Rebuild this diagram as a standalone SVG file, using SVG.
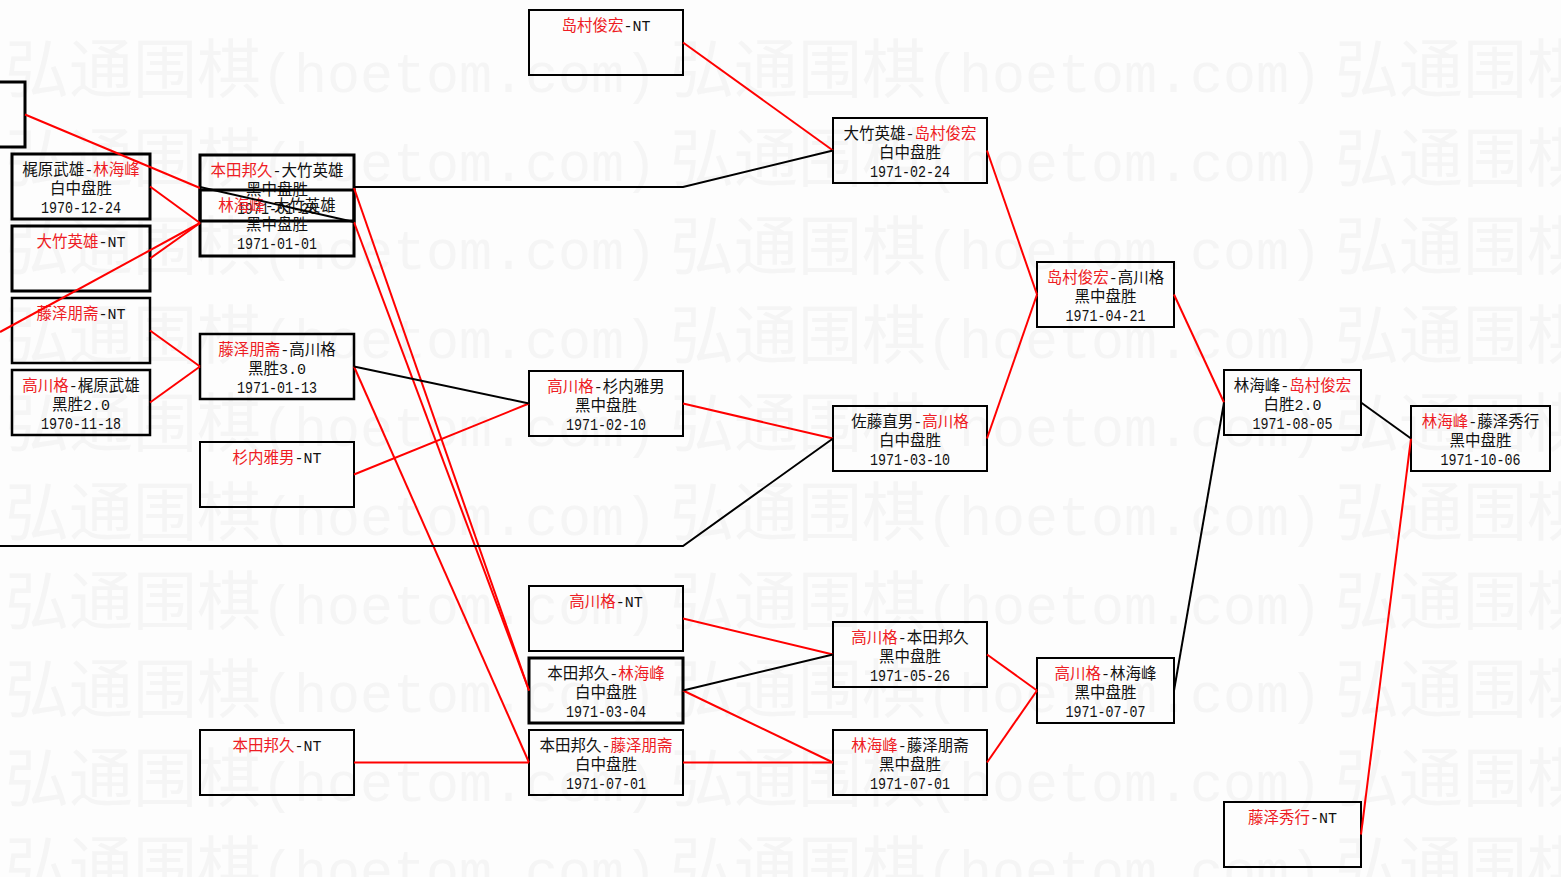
<svg xmlns="http://www.w3.org/2000/svg" width="1561" height="877" viewBox="0 0 1561 877">
<style>
.wm{font-family:"Liberation Mono",monospace;font-size:55px;fill:#f5f5f5}
.wc{font-family:"Noto Sans CJK SC",sans-serif;font-size:64px}
.b{fill:none;stroke:#000;stroke-width:2}
.bt{stroke-width:3}
.bm{stroke-width:2.5}
.t{font-family:"Noto Sans CJK SC","Liberation Sans",sans-serif;font-size:15.5px;fill:#111;text-anchor:middle}
.m{font-family:"Liberation Mono",monospace;font-size:15px}
.d{font-family:"Liberation Mono",monospace;font-size:16px}
.r{fill:#ee1c24}
.lr{stroke:#f00;stroke-width:2;fill:none}
.lk{stroke:#000;stroke-width:2;fill:none}
</style>
<rect width="1561" height="877" fill="#fdfdfd"/>
<g id="watermark">
<text class="wm" y="92"><tspan x="5" class="wc">弘通围棋</tspan><tspan>(hoetom.com)</tspan><tspan x="670" class="wc">弘通围棋</tspan><tspan>(hoetom.com)</tspan><tspan x="1335" class="wc">弘通围棋</tspan></text>
<text class="wm" y="181"><tspan x="5" class="wc">弘通围棋</tspan><tspan>(hoetom.com)</tspan><tspan x="670" class="wc">弘通围棋</tspan><tspan>(hoetom.com)</tspan><tspan x="1335" class="wc">弘通围棋</tspan></text>
<text class="wm" y="269"><tspan x="5" class="wc">弘通围棋</tspan><tspan>(hoetom.com)</tspan><tspan x="670" class="wc">弘通围棋</tspan><tspan>(hoetom.com)</tspan><tspan x="1335" class="wc">弘通围棋</tspan></text>
<text class="wm" y="358"><tspan x="5" class="wc">弘通围棋</tspan><tspan>(hoetom.com)</tspan><tspan x="670" class="wc">弘通围棋</tspan><tspan>(hoetom.com)</tspan><tspan x="1335" class="wc">弘通围棋</tspan></text>
<text class="wm" y="446"><tspan x="5" class="wc">弘通围棋</tspan><tspan>(hoetom.com)</tspan><tspan x="670" class="wc">弘通围棋</tspan><tspan>(hoetom.com)</tspan><tspan x="1335" class="wc">弘通围棋</tspan></text>
<text class="wm" y="535"><tspan x="5" class="wc">弘通围棋</tspan><tspan>(hoetom.com)</tspan><tspan x="670" class="wc">弘通围棋</tspan><tspan>(hoetom.com)</tspan><tspan x="1335" class="wc">弘通围棋</tspan></text>
<text class="wm" y="624"><tspan x="5" class="wc">弘通围棋</tspan><tspan>(hoetom.com)</tspan><tspan x="670" class="wc">弘通围棋</tspan><tspan>(hoetom.com)</tspan><tspan x="1335" class="wc">弘通围棋</tspan></text>
<text class="wm" y="712"><tspan x="5" class="wc">弘通围棋</tspan><tspan>(hoetom.com)</tspan><tspan x="670" class="wc">弘通围棋</tspan><tspan>(hoetom.com)</tspan><tspan x="1335" class="wc">弘通围棋</tspan></text>
<text class="wm" y="801"><tspan x="5" class="wc">弘通围棋</tspan><tspan>(hoetom.com)</tspan><tspan x="670" class="wc">弘通围棋</tspan><tspan>(hoetom.com)</tspan><tspan x="1335" class="wc">弘通围棋</tspan></text>
<text class="wm" y="889"><tspan x="5" class="wc">弘通围棋</tspan><tspan>(hoetom.com)</tspan><tspan x="670" class="wc">弘通围棋</tspan><tspan>(hoetom.com)</tspan><tspan x="1335" class="wc">弘通围棋</tspan></text>
</g>
<g id="n-partial"><rect class="b bt" x="-3" y="82" width="28" height="65"/></g>
<g id="n-kajiwara-rin"><rect class="b bt" x="12" y="154" width="138" height="65"/>
<text class="t" x="81" y="174.5">梶原武雄<tspan class="m">-</tspan><tspan class="r">林海峰</tspan></text>
<text class="t" x="81" y="193.5">白中盘胜</text>
<text class="t d" x="81" y="212.5" textLength="80" lengthAdjust="spacingAndGlyphs">1970-12-24</text></g>
<g id="n-otake-nt"><rect class="b bt" x="12" y="226" width="138" height="65"/>
<text class="t" x="81" y="246.5"><tspan class="r">大竹英雄</tspan><tspan class="m">-NT</tspan></text></g>
<g id="n-fujisawa-nt"><rect class="b bm" x="12" y="298" width="138" height="65"/>
<text class="t" x="81" y="318.5"><tspan class="r">藤泽朋斋</tspan><tspan class="m">-NT</tspan></text></g>
<g id="n-takagawa-kajiwara"><rect class="b bm" x="12" y="370" width="138" height="65"/>
<text class="t" x="81" y="390.5"><tspan class="r">高川格</tspan><tspan class="m">-</tspan>梶原武雄</text>
<text class="t" x="81" y="409.5">黑胜<tspan class="m">2.0</tspan></text>
<text class="t d" x="81" y="428.5" textLength="80" lengthAdjust="spacingAndGlyphs">1970-11-18</text></g>
<g id="n-honda-otake"><rect class="b bt" x="200" y="155" width="154" height="66"/>
<text class="t" x="277" y="175.5"><tspan class="r">本田邦久</tspan><tspan class="m">-</tspan>大竹英雄</text>
<text class="t" x="277" y="194.5">黑中盘胜</text>
<text class="t d" x="277" y="213.5" textLength="80" lengthAdjust="spacingAndGlyphs">1971-01-20</text></g>
<g id="n-rin-otake"><rect class="b bt" x="200" y="190" width="154" height="66"/>
<text class="t" x="277" y="210.5"><tspan class="r">林海峰</tspan><tspan class="m">-</tspan>大竹英雄</text>
<text class="t" x="277" y="229.5">黑中盘胜</text>
<text class="t d" x="277" y="248.5" textLength="80" lengthAdjust="spacingAndGlyphs">1971-01-01</text></g>
<g id="n-fujisawa-takagawa"><rect class="b bm" x="200" y="334" width="154" height="65"/>
<text class="t" x="277" y="354.5"><tspan class="r">藤泽朋斋</tspan><tspan class="m">-</tspan>高川格</text>
<text class="t" x="277" y="373.5">黑胜<tspan class="m">3.0</tspan></text>
<text class="t d" x="277" y="392.5" textLength="80" lengthAdjust="spacingAndGlyphs">1971-01-13</text></g>
<g id="n-sugiuchi-nt"><rect class="b" x="200" y="442" width="154" height="65"/>
<text class="t" x="277" y="462.5"><tspan class="r">杉内雅男</tspan><tspan class="m">-NT</tspan></text></g>
<g id="n-honda-nt"><rect class="b" x="200" y="730" width="154" height="65"/>
<text class="t" x="277" y="750.5"><tspan class="r">本田邦久</tspan><tspan class="m">-NT</tspan></text></g>
<g id="n-shimamura-nt"><rect class="b" x="529" y="10" width="154" height="65"/>
<text class="t" x="606" y="30.5"><tspan class="r">岛村俊宏</tspan><tspan class="m">-NT</tspan></text></g>
<g id="n-takagawa-sugiuchi"><rect class="b" x="529" y="371" width="154" height="65"/>
<text class="t" x="606" y="391.5"><tspan class="r">高川格</tspan><tspan class="m">-</tspan>杉内雅男</text>
<text class="t" x="606" y="410.5">黑中盘胜</text>
<text class="t d" x="606" y="429.5" textLength="80" lengthAdjust="spacingAndGlyphs">1971-02-10</text></g>
<g id="n-takagawa-nt"><rect class="b" x="529" y="586" width="154" height="65"/>
<text class="t" x="606" y="606.5"><tspan class="r">高川格</tspan><tspan class="m">-NT</tspan></text></g>
<g id="n-honda-rin"><rect class="b bt" x="529" y="658" width="154" height="65"/>
<text class="t" x="606" y="678.5">本田邦久<tspan class="m">-</tspan><tspan class="r">林海峰</tspan></text>
<text class="t" x="606" y="697.5">白中盘胜</text>
<text class="t d" x="606" y="716.5" textLength="80" lengthAdjust="spacingAndGlyphs">1971-03-04</text></g>
<g id="n-honda-fujisawa"><rect class="b" x="529" y="730" width="154" height="65"/>
<text class="t" x="606" y="750.5">本田邦久<tspan class="m">-</tspan><tspan class="r">藤泽朋斋</tspan></text>
<text class="t" x="606" y="769.5">白中盘胜</text>
<text class="t d" x="606" y="788.5" textLength="80" lengthAdjust="spacingAndGlyphs">1971-07-01</text></g>
<g id="n-otake-shimamura"><rect class="b" x="833" y="118" width="154" height="65"/>
<text class="t" x="910" y="138.5">大竹英雄<tspan class="m">-</tspan><tspan class="r">岛村俊宏</tspan></text>
<text class="t" x="910" y="157.5">白中盘胜</text>
<text class="t d" x="910" y="176.5" textLength="80" lengthAdjust="spacingAndGlyphs">1971-02-24</text></g>
<g id="n-sato-takagawa"><rect class="b" x="833" y="406" width="154" height="65"/>
<text class="t" x="910" y="426.5">佐藤直男<tspan class="m">-</tspan><tspan class="r">高川格</tspan></text>
<text class="t" x="910" y="445.5">白中盘胜</text>
<text class="t d" x="910" y="464.5" textLength="80" lengthAdjust="spacingAndGlyphs">1971-03-10</text></g>
<g id="n-takagawa-honda"><rect class="b" x="833" y="622" width="154" height="65"/>
<text class="t" x="910" y="642.5"><tspan class="r">高川格</tspan><tspan class="m">-</tspan>本田邦久</text>
<text class="t" x="910" y="661.5">黑中盘胜</text>
<text class="t d" x="910" y="680.5" textLength="80" lengthAdjust="spacingAndGlyphs">1971-05-26</text></g>
<g id="n-rin-fujisawa"><rect class="b" x="833" y="730" width="154" height="65"/>
<text class="t" x="910" y="750.5"><tspan class="r">林海峰</tspan><tspan class="m">-</tspan>藤泽朋斋</text>
<text class="t" x="910" y="769.5">黑中盘胜</text>
<text class="t d" x="910" y="788.5" textLength="80" lengthAdjust="spacingAndGlyphs">1971-07-01</text></g>
<g id="n-shimamura-takagawa"><rect class="b" x="1037" y="262" width="137" height="65"/>
<text class="t" x="1105.5" y="282.5"><tspan class="r">岛村俊宏</tspan><tspan class="m">-</tspan>高川格</text>
<text class="t" x="1105.5" y="301.5">黑中盘胜</text>
<text class="t d" x="1105.5" y="320.5" textLength="80" lengthAdjust="spacingAndGlyphs">1971-04-21</text></g>
<g id="n-takagawa-rin"><rect class="b" x="1037" y="658" width="137" height="65"/>
<text class="t" x="1105.5" y="678.5"><tspan class="r">高川格</tspan><tspan class="m">-</tspan>林海峰</text>
<text class="t" x="1105.5" y="697.5">黑中盘胜</text>
<text class="t d" x="1105.5" y="716.5" textLength="80" lengthAdjust="spacingAndGlyphs">1971-07-07</text></g>
<g id="n-rin-shimamura"><rect class="b" x="1224" y="370" width="137" height="65"/>
<text class="t" x="1292.5" y="390.5">林海峰<tspan class="m">-</tspan><tspan class="r">岛村俊宏</tspan></text>
<text class="t" x="1292.5" y="409.5">白胜<tspan class="m">2.0</tspan></text>
<text class="t d" x="1292.5" y="428.5" textLength="80" lengthAdjust="spacingAndGlyphs">1971-08-05</text></g>
<g id="n-fujisawah-nt"><rect class="b" x="1224" y="802" width="137" height="65"/>
<text class="t" x="1292.5" y="822.5"><tspan class="r">藤泽秀行</tspan><tspan class="m">-NT</tspan></text></g>
<g id="n-rin-fujisawah"><rect class="b" x="1411" y="406" width="139" height="65"/>
<text class="t" x="1480.5" y="426.5"><tspan class="r">林海峰</tspan><tspan class="m">-</tspan>藤泽秀行</text>
<text class="t" x="1480.5" y="445.5">黑中盘胜</text>
<text class="t d" x="1480.5" y="464.5" textLength="80" lengthAdjust="spacingAndGlyphs">1971-10-06</text></g>
<g id="connectors">
<polyline class="lr" points="25,114.5 200,188"/>
<polyline class="lr" points="150,186.5 200,223"/>
<polyline class="lr" points="150,258.5 200,223"/>
<polyline class="lr" points="0,332 200,223"/>
<polyline class="lr" points="150,330.5 200,366.5"/>
<polyline class="lr" points="150,402.5 200,366.5"/>
<polyline class="lr" points="354,188 529,690.5"/>
<polyline class="lr" points="354,222 529,690.5"/>
<polyline class="lr" points="354,366.5 529,762.5"/>
<polyline class="lr" points="354,474.5 529,403.5"/>
<polyline class="lr" points="354,762.5 529,762.5"/>
<polyline class="lr" points="683,42.5 833,150.5"/>
<polyline class="lr" points="683,403.5 833,438.5"/>
<polyline class="lr" points="683,618.5 833,654.5"/>
<polyline class="lr" points="683,690.5 833,762.5"/>
<polyline class="lr" points="683,762.5 833,762.5"/>
<polyline class="lr" points="987,150.5 1037,294.5"/>
<polyline class="lr" points="987,438.5 1037,294.5"/>
<polyline class="lr" points="987,654.5 1037,690.5"/>
<polyline class="lr" points="987,762.5 1037,690.5"/>
<polyline class="lr" points="1174,294.5 1224,402.5"/>
<polyline class="lr" points="1361,834.5 1411,438.5"/>
<polyline class="lk" points="200,187 354,222"/>
<polyline class="lk" points="354,187 683,187 833,150.5"/>
<polyline class="lk" points="354,366.5 529,403.5"/>
<polyline class="lk" points="0,546 683,546 833,438.5"/>
<polyline class="lk" points="683,690.5 833,654.5"/>
<polyline class="lk" points="1174,690.5 1224,402.5"/>
<polyline class="lk" points="1361,402.5 1411,438.5"/>
</g>
</svg>
